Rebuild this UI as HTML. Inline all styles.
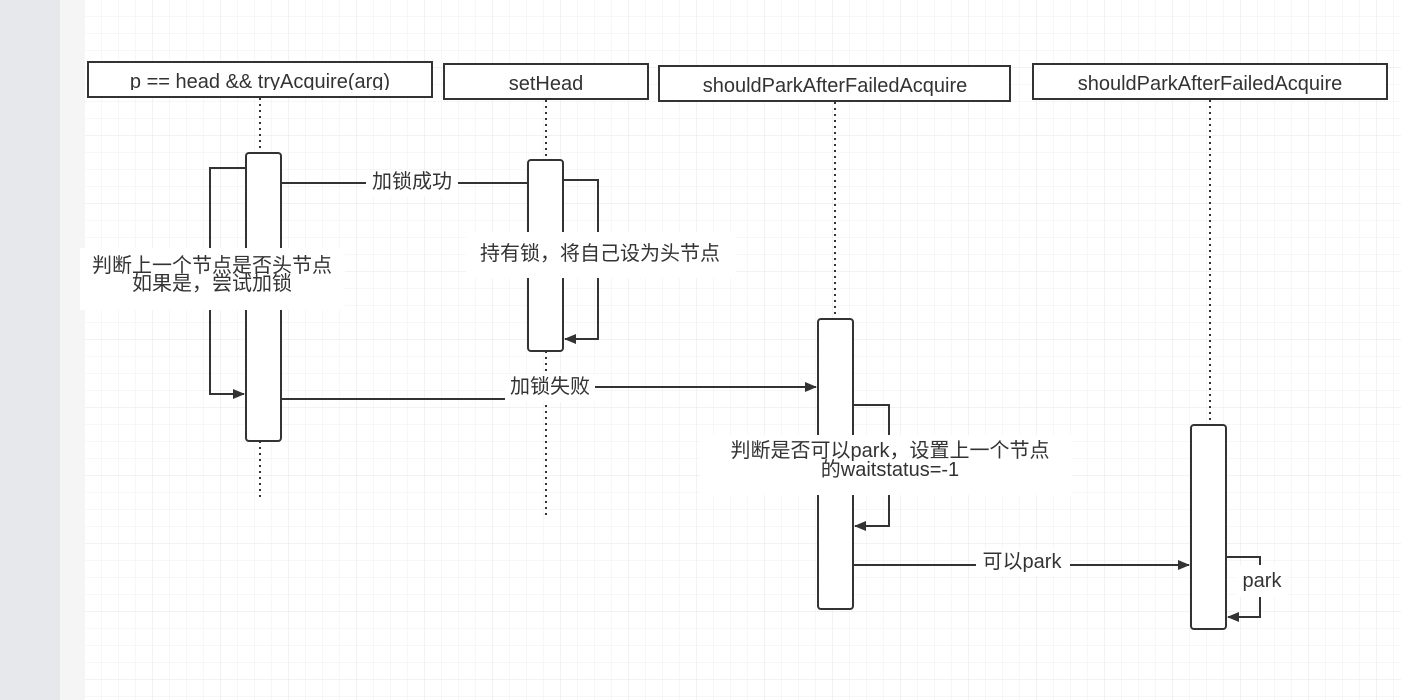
<!DOCTYPE html>
<html><head><meta charset="utf-8"><style>
html,body{margin:0;padding:0;width:1401px;height:700px;overflow:hidden;background:#fff}
text{font-family:"Liberation Sans","Noto Sans CJK SC",sans-serif;fill:#333}
</style></head><body>
<svg width="1401" height="700" xmlns="http://www.w3.org/2000/svg">
<defs>
<pattern id="g" x="85" y="0" width="17" height="17" patternUnits="userSpaceOnUse">
<path d="M17 0V17M0 17H17" fill="none" stroke="#efefef" stroke-width="1"/>
</pattern>
<pattern id="G" x="85" y="0" width="68" height="68" patternUnits="userSpaceOnUse">
<path d="M68 0V68M0 68H68" fill="none" stroke="#e4e4e4" stroke-width="1"/>
</pattern>
<marker id="a" markerWidth="12" markerHeight="10" refX="11" refY="5" orient="auto" markerUnits="userSpaceOnUse">
<path d="M0 0L12 5L0 10z" fill="#333"/>
</marker>
<clipPath id="c1"><rect x="88" y="62" width="344" height="28"/></clipPath>
</defs>
<rect x="0" y="0" width="60" height="700" fill="#e7e8eb"/>
<rect x="60" y="0" width="25" height="700" fill="#f5f5f6"/>
<rect x="85" y="0" width="1316" height="700" fill="url(#g)"/>
<rect x="85" y="0" width="1316" height="700" fill="url(#G)"/>

<g stroke="#333" stroke-width="2" fill="#fff">
<rect x="88" y="62" width="344" height="35"/>
<rect x="444" y="64" width="204" height="35"/>
<rect x="659" y="66" width="351" height="35"/>
<rect x="1033" y="64" width="354" height="35"/>
</g>
<text x="260" y="88" font-size="20" text-anchor="middle" clip-path="url(#c1)">p == head &amp;&amp; tryAcquire(arg)</text>
<text x="546" y="90" font-size="20" text-anchor="middle">setHead</text>
<text x="835" y="92" font-size="20" text-anchor="middle">shouldParkAfterFailedAcquire</text>
<text x="1210" y="90" font-size="20" text-anchor="middle">shouldParkAfterFailedAcquire</text>

<g stroke="#333" stroke-width="2" stroke-dasharray="2 4" fill="none">
<path d="M260 98V153M260 441V497"/>
<path d="M546 100V160M546 351V518"/>
<path d="M835 102V319"/>
<path d="M1210 100V425"/>
</g>

<g stroke="#333" stroke-width="2" fill="none">
<path d="M246 168H210V394H244" marker-end="url(#a)"/>
<path d="M281 183H528"/>
<path d="M563 180H598V339H565" marker-end="url(#a)"/>
<path d="M281 399H505M595 387H816" marker-end="url(#a)"/>
<path d="M853 405H889V526H855" marker-end="url(#a)"/>
<path d="M853 565H1189" marker-end="url(#a)"/>
<path d="M1226 557H1260V617H1228" marker-end="url(#a)"/>
</g>

<g stroke="#333" stroke-width="2" fill="#fff">
<rect x="246" y="153" width="35" height="288" rx="3"/>
<rect x="528" y="160" width="35" height="191" rx="3"/>
<rect x="818" y="319" width="35" height="290" rx="3"/>
<rect x="1191" y="425" width="35" height="204" rx="3"/>
</g>

<g fill="#fff">
<rect x="80" y="248" width="265" height="62"/>
<rect x="466" y="232" width="270" height="46"/>
<rect x="700" y="435" width="372" height="60"/>
<rect x="366" y="170" width="92" height="26"/>
<rect x="505" y="374" width="90" height="28"/>
<rect x="976" y="550" width="94" height="26"/>
<rect x="1236" y="565" width="52" height="32"/>
</g>
<g font-size="20" text-anchor="middle">
<text x="212" y="272">判断上一个节点是否头节点</text>
<text x="212" y="290">如果是，尝试加锁</text>
<text x="412" y="188">加锁成功</text>
<text x="600" y="260">持有锁，将自己设为头节点</text>
<text x="550" y="393">加锁失败</text>
<text x="890" y="457">判断是否可以park，设置上一个节点</text>
<text x="890" y="476">的waitstatus=-1</text>
<text x="1022" y="568">可以park</text>
<text x="1262" y="587">park</text>
</g>
</svg>
</body></html>
